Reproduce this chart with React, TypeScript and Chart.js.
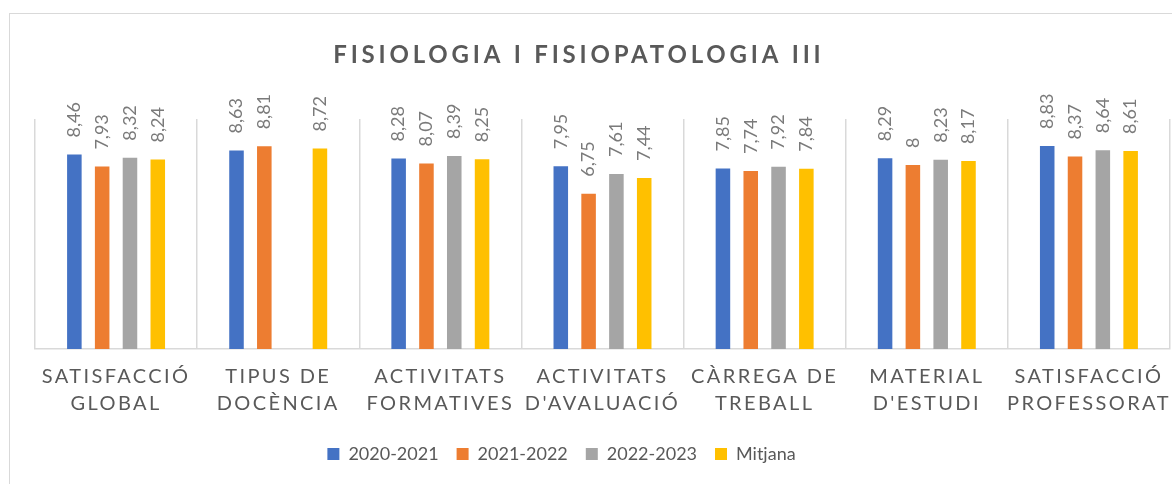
import React, { useEffect, useRef } from "react";
import { Chart, registerables } from "chart.js";

Chart.register(...registerables);

const TITLE = "FISIOLOGIA I FISIOPATOLOGIA III";

const categories: string[][] = [
  ["SATISFACCIÓ", "GLOBAL"],
  ["TIPUS DE", "DOCÈNCIA"],
  ["ACTIVITATS", "FORMATIVES"],
  ["ACTIVITATS", "D'AVALUACIÓ"],
  ["CÀRREGA DE", "TREBALL"],
  ["MATERIAL", "D'ESTUDI"],
  ["SATISFACCIÓ", "PROFESSORAT"],
];

const seriesNames = ["2020-2021", "2021-2022", "2022-2023", "Mitjana"];
const seriesColors = ["#4472C4", "#ED7D31", "#A5A5A5", "#FFC000"];

const values2020: (number | null)[] = [8.46, 8.63, 8.28, 7.95, 7.85, 8.29, 8.83];
const values2021: (number | null)[] = [7.93, 8.81, 8.07, 6.75, 7.74, 8, 8.37];
const values2022: (number | null)[] = [8.32, null, 8.39, 7.61, 7.92, 8.23, 8.64];
const valuesMitjana: (number | null)[] = [8.24, 8.72, 8.25, 7.44, 7.84, 8.17, 8.61];

const FONT = "Lato, 'Open Sans', sans-serif";
const TEXT = "#595959";

const labelsPlugin = {
  id: "customLabels",
  afterLayout(chart: any) {
    const lg = chart.legend;
    if (lg) {
      lg.left -= 82;
    }
  },
  afterDatasetsDraw(chart: any) {
    const ctx = chart.ctx;
    ctx.save();
    ctx.font = `normal 18px ${FONT}`;
    ctx.fillStyle = "#7a7a7a";
    ctx.textAlign = "left";
    ctx.textBaseline = "middle";
    chart.data.datasets.forEach((ds: any, di: number) => {
      const meta = chart.getDatasetMeta(di);
      meta.data.forEach((bar: any, i: number) => {
        const v = ds.data[i];
        if (v === null || v === undefined) return;
        const txt = String(v).replace(".", ",");
        ctx.save();
        ctx.translate(bar.x, bar.y - 17);
        ctx.rotate(-Math.PI / 2);
        ctx.fillText(txt, 0, 0);
        ctx.restore();
      });
    });
    ctx.restore();
    // letter spacing for the x-axis tick layer (z: 1), drawn after datasets
    ctx.letterSpacing = "2.4px";
  },
  afterDraw(chart: any) {
    const ctx = chart.ctx;
    ctx.letterSpacing = "0px";
    ctx.save();
    const ls = 3.8;
    ctx.letterSpacing = `${ls}px`;
    ctx.font = `bold 24px ${FONT}`;
    ctx.fillStyle = TEXT;
    ctx.textAlign = "center";
    ctx.textBaseline = "middle";
    ctx.fillText(TITLE, 577 + ls / 2, 55);
    ctx.restore();
    ctx.letterSpacing = "0px";
  },
};

export default function App() {
  const ref = useRef<HTMLCanvasElement | null>(null);

  useEffect(() => {
    if (!ref.current) return;
    const data = [values2020, values2021, values2022, valuesMitjana];
    const chart = new Chart(ref.current, {
      type: "bar",
      data: {
        labels: categories,
        datasets: seriesNames.map((name, i) => ({
          label: name,
          data: data[i],
          backgroundColor: seriesColors[i],
          borderWidth: 0,
          categoryPercentage: 0.686,
          barPercentage: 0.523,
        })),
      },
      options: {
        animation: false,
        responsive: false,
        maintainAspectRatio: false,
        devicePixelRatio: 1,
        layout: { padding: { top: 119, left: 35, right: 2, bottom: 11 } },
        plugins: {
          title: { display: false },
          tooltip: { enabled: false },
          legend: {
            display: true,
            position: "bottom",
            labels: {
              boxWidth: 12,
              boxHeight: 12,
              padding: 18,
              color: TEXT,
              font: { family: FONT, size: 18 },
            },
          },
        },
        scales: {
          x: {
            grid: {
              display: true,
              offset: true,
              color: "#d9d9d9",
              lineWidth: 1.5,
              drawTicks: false,
            },
            border: { display: true, color: "#d9d9d9", width: 1.5 },
            ticks: {
              z: 1,
              color: TEXT,
              padding: 14,
              maxRotation: 0,
              autoSkip: false,
              font: { family: FONT, size: 20, lineHeight: 1.35 },
            },
            afterFit: (scale: any) => {
              scale.height = 78;
            },
          },
          y: {
            display: false,
            min: 0,
            max: 10,
          },
        },
      },
      plugins: [labelsPlugin],
    });
    return () => chart.destroy();
  }, []);

  return (
    <div
      style={{
        position: "fixed",
        left: 0,
        top: 0,
        width: 1172,
        height: 484,
        background: "#fff",
        overflow: "hidden",
      }}
    >
      <div
        style={{
          position: "absolute",
          left: 9,
          top: 13,
          width: 1200,
          height: 500,
          borderLeft: "1.5px solid #d9d9d9",
          borderTop: "1.5px solid #d9d9d9",
        }}
      />
      <canvas
        ref={ref}
        width={1172}
        height={484}
        style={{ position: "absolute", left: 0, top: 0, width: 1172, height: 484 }}
      />
    </div>
  );
}
